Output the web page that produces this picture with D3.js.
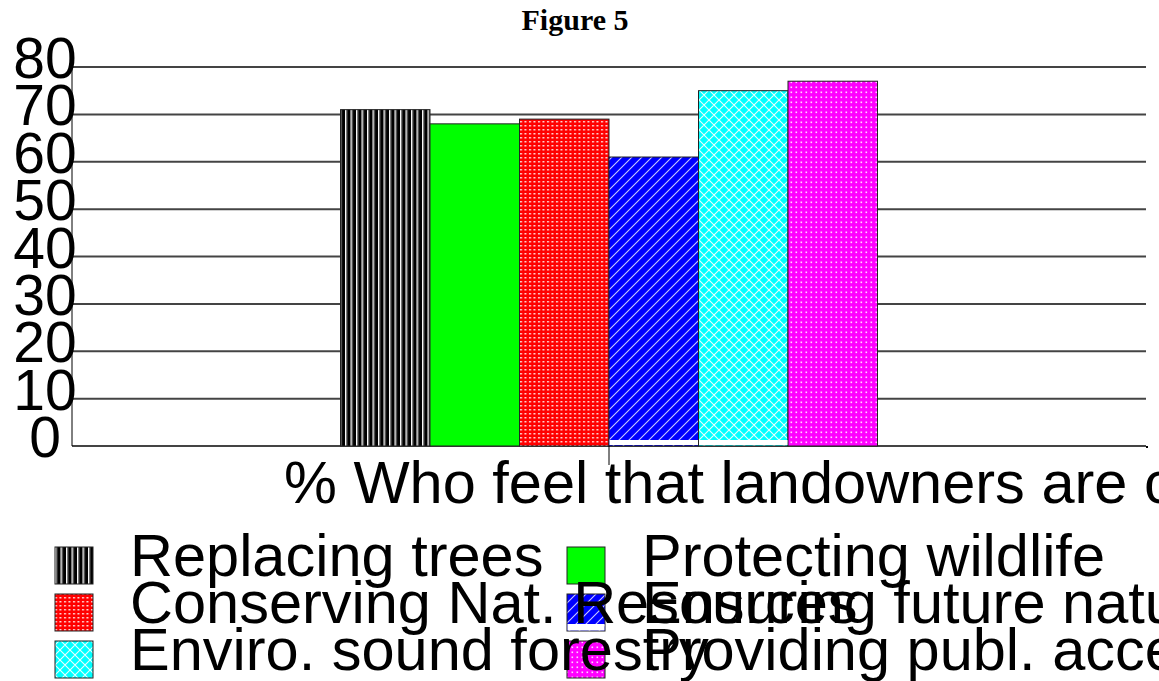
<!DOCTYPE html>
<html>
<head>
<meta charset="utf-8">
<script src="https://cdn.jsdelivr.net/npm/d3@7"></script>
<style>
  html, body { margin: 0; padding: 0; background: #fff; overflow: hidden; }
  svg { display: block; }
</style>
</head>
<body>
<svg id="chart" width="1159" height="681"></svg>
<script>
// Survey results: share of respondents who feel landowners are concerned with each topic
const category = ["% Who feel that landowners are concerned with"];
const seriesNames = [
  "Replacing trees",
  "Protecting wildlife",
  "Conserving Nat. Resources",
  "Ensuring future natural resources",
  "Enviro. sound forestry",
  "Providing publ. access"
];
const seriesValues = [71, 68, 69, 61, 75, 77];
const yTicks = [0, 10, 20, 30, 40, 50, 60, 70, 80];

const svg = d3.select("#chart");
const plot = { left: 72, right: 1146, top: 67, bottom: 446 };

// Fill patterns for each series
const defs = svg.append("defs");
function pat(id, w, h, bg) {
  const p = defs.append("pattern").attr("id", id)
    .attr("patternUnits", "userSpaceOnUse").attr("width", w).attr("height", h);
  p.append("rect").attr("width", w).attr("height", h).attr("fill", bg);
  return p;
}
// vertical stripes
let p = pat("pStripe", 5.5, 10, "#000");
p.append("rect").attr("x", 0).attr("width", 1.2).attr("height", 10).attr("fill", "#fff");
p.append("rect").attr("x", 1.2).attr("width", 1).attr("height", 10).attr("fill", "#999");
// solid green
pat("pGreen", 10, 10, "#00ff00");
// fine dots on red
p = pat("pRedDots", 4.5, 4, "#ff0000");
p.append("rect").attr("x", 1).attr("y", 1).attr("width", 2).attr("height", 1.5).attr("fill", "#ffd6d6");
// diagonal lines on blue
p = pat("pDiag", 10, 10, "#0000ff");
p.append("path").attr("d", "M-1,11 L11,-1 M-6,6 L6,-6 M4,16 L16,4")
  .attr("stroke", "#c8c8ff").attr("stroke-width", 1.1);
// diagonal crosshatch on cyan
p = pat("pCross", 10, 10, "#00ffff");
p.append("path").attr("d", "M-1,11 L11,-1 M-6,6 L6,-6 M4,16 L16,4 M-1,-1 L11,11 M-6,4 L6,16 M4,-6 L16,6")
  .attr("stroke", "#e6ffff").attr("stroke-width", 1.1);
// dots on magenta
p = pat("pMagDots", 5, 5, "#ff00ff");
p.append("rect").attr("x", 1.5).attr("y", 1.5).attr("width", 1.6).attr("height", 1.6).attr("fill", "#ffd6ff");

const fills = ["url(#pStripe)", "url(#pGreen)", "url(#pRedDots)", "url(#pDiag)", "url(#pCross)", "url(#pMagDots)"];
// the hatched blue and cyan fills stop a little short of the baseline
const shortFill = [false, false, false, true, true, false];

// Scales
const x0 = d3.scaleBand().domain(category).range([plot.left, plot.right]);
const groupW = x0.bandwidth() * 0.5;
const x1 = d3.scaleBand().domain(seriesNames).range([-groupW / 2, groupW / 2]);
const y = d3.scaleLinear().domain([0, 80]).range([plot.bottom, plot.top]);

// Title
svg.append("text")
  .attr("x", 575).attr("y", 30)
  .attr("text-anchor", "middle")
  .attr("font-family", "'Liberation Serif', 'Times New Roman', serif")
  .attr("font-weight", "bold").attr("font-size", 30)
  .text("Figure 5");

// Gridlines
svg.append("g").selectAll("line").data(yTicks).join("line")
  .attr("x1", plot.left).attr("x2", plot.right)
  .attr("y1", d => y(d)).attr("y2", d => y(d))
  .attr("stroke", "#444").attr("stroke-width", 2);

// Bars
const bars = svg.append("g").selectAll("g").data(category).join("g")
  .attr("transform", d => `translate(${x0(d) + x0.bandwidth() / 2},0)`);
const barData = seriesNames.map((n, i) => ({ name: n, value: seriesValues[i], i }));
bars.selectAll("rect.bar").data(barData).join("rect").attr("class", "bar")
  .attr("x", d => x1(d.name))
  .attr("y", d => y(d.value))
  .attr("width", x1.bandwidth())
  .attr("height", d => y(0) - y(d.value))
  .attr("fill", d => fills[d.i])
  .attr("stroke", "#222").attr("stroke-width", 1);
bars.selectAll("rect.gap").data(barData.filter(d => shortFill[d.i])).join("rect").attr("class", "gap")
  .attr("x", d => x1(d.name) + 0.5)
  .attr("y", y(0) - 6)
  .attr("width", x1.bandwidth() - 1)
  .attr("height", 5)
  .attr("fill", "#fff");

// Y axis line and labels
svg.append("line")
  .attr("x1", plot.left).attr("x2", plot.left)
  .attr("y1", plot.top).attr("y2", plot.bottom)
  .attr("stroke", "#000").attr("stroke-width", 1);
svg.append("g").selectAll("text").data(yTicks).join("text")
  .attr("x", 45).attr("y", d => y(d) + 11)
  .attr("text-anchor", "middle")
  .attr("font-family", "'Liberation Sans', Arial, sans-serif")
  .attr("font-size", 57)
  .text(d => d);

// X axis: tick at the category centre plus end tick
const xAxis = d3.axisBottom(x0).tickSize(19).tickFormat("");
const gx = svg.append("g").attr("transform", `translate(0,${plot.bottom})`).call(xAxis);
gx.select(".domain").remove();
gx.selectAll(".tick line").attr("stroke", "#000").attr("stroke-width", 1);
svg.append("rect").attr("x", x0.range()[1]).attr("y", plot.bottom).attr("width", 2).attr("height", 2).attr("fill", "#000");

svg.append("text")
  .attr("x", x0(category[0]) + x0.bandwidth() / 2 - 325)
  .attr("y", 503)
  .attr("font-family", "'Liberation Sans', Arial, sans-serif")
  .attr("font-size", 59.5)
  .text(category[0]);

// Legend: 3 rows x 2 columns
const legCols = [55, 567];
const legRows = [547, 594, 641];
const items = seriesNames.map((n, i) => ({
  name: n, i,
  x: legCols[i % 2], y: legRows[Math.floor(i / 2)]
}));
const leg = svg.append("g");
leg.selectAll("rect").data(items).join("rect")
  .attr("x", d => d.x).attr("y", d => d.y)
  .attr("width", 38).attr("height", 37)
  .attr("fill", d => fills[d.i])
  .attr("stroke", "#222").attr("stroke-width", 1);
leg.selectAll("rect.gap").data(items.filter(d => d.i === 3)).join("rect").attr("class", "gap")
  .attr("x", d => d.x + 0.5).attr("y", d => d.y + 30)
  .attr("width", 37).attr("height", 6.5).attr("fill", "#fff");
leg.selectAll("text").data(items).join("text")
  .attr("x", d => d.x + 75).attr("y", d => d.y + 29)
  .attr("font-family", "'Liberation Sans', Arial, sans-serif")
  .attr("font-size", 59.5)
  .text(d => d.name);
</script>
</body>
</html>
